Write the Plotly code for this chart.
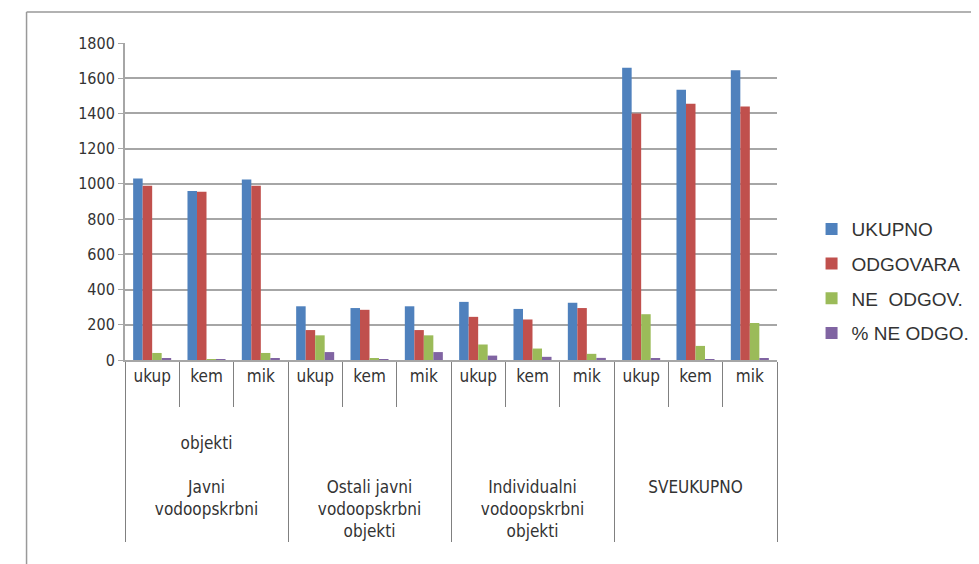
import plotly.graph_objects as go

groups = [
    " <br> <br>objekti<br> <br>Javni<br>vodoopskrbni",
    " <br> <br> <br> <br>Ostali javni<br>vodoopskrbni<br>objekti",
    " <br> <br> <br> <br>Individualni<br>vodoopskrbni<br>objekti",
    " <br> <br> <br> <br>SVEUKUPNO",
]
subs = ["ukup", "kem", "mik"]

ukupno = [1030, 960, 1025, 305, 295, 305, 330, 290, 325, 1660, 1535, 1645]
odgovara = [990, 955, 990, 170, 285, 170, 245, 230, 295, 1400, 1455, 1440]
ne_odgov = [40, 5, 40, 140, 8, 140, 88, 65, 35, 260, 80, 210]
pct_ne_odgo = [10, 3, 10, 45, 3, 45, 25, 18, 12, 10, 5, 6]

series = [
    ("UKUPNO", ukupno, "#4F81BD"),
    ("ODGOVARA", odgovara, "#C0504D"),
    ("NE  ODGOV.", ne_odgov, "#9BBB59"),
    ("% NE ODGO.", pct_ne_odgo, "#8064A2"),
]

x = [[g for g in groups for _ in subs], subs * len(groups)]

fig = go.Figure()
for i, (name, vals, color) in enumerate(series):
    fig.add_trace(go.Bar(
        x=x, y=vals, name=name, legendgroup=str(i),
        marker=dict(color=color, line=dict(color=color, width=0)),
    ))

fig.update_layout(
    width=979, height=564,
    paper_bgcolor="white", plot_bgcolor="white",
    margin=dict(l=117, r=207, t=35, b=212),
    barmode="group", bargap=0.3, bargroupgap=0,
    font=dict(family="Liberation Sans Narrow, DejaVu Sans Condensed, sans-serif", color="#333333"),
    legend=dict(
        x=1.053, y=0.473, xanchor="left", yanchor="top",
        font=dict(family="Liberation Sans, Arial, sans-serif", size=19, color="#333333"),
        tracegroupgap=7,
    ),
    showlegend=True,
)
fig.update_yaxes(
    range=[0, 1800], dtick=200,
    showgrid=True, gridcolor="#A6A6A6", gridwidth=2,
    showline=True, linecolor="#A6A6A6", linewidth=2,
    ticks="outside", ticklen=5, tickcolor="#A6A6A6",
    tickfont=dict(size=16, color="#333333"),
    zeroline=False,
)
fig.update_xaxes(
    showline=True, linecolor="#A6A6A6", linewidth=2,
    ticks="outside", tickson="boundaries", ticklen=45, tickcolor="#808080",
    showdividers=True, dividercolor="#808080", dividerwidth=1,
    tickfont=dict(size=17, color="#333333"),
)

# chart frame
fig.add_shape(type="line", xref="paper", yref="paper", x0=-0.151, x1=-0.151, y0=1.098, y1=-0.7,
              line=dict(color="#999999", width=1.5))
fig.add_shape(type="line", xref="paper", yref="paper", x0=-0.151, x1=1.35, y0=1.098, y1=1.098,
              line=dict(color="#999999", width=1.5))

fig.write_html("out.html")
